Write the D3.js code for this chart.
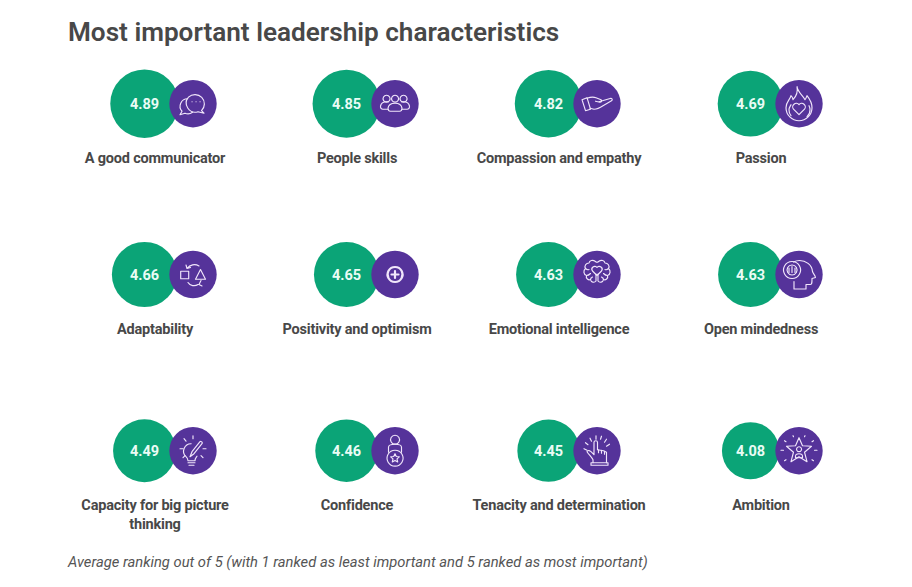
<!DOCTYPE html>
<html>
<head>
<meta charset="utf-8">
<script src="https://cdn.jsdelivr.net/npm/d3@7"></script>
<style>
  html, body { margin: 0; background: #fff; }
  text { font-family: Roboto, sans-serif; }
</style>
</head>
<body>
<svg id="chart" width="912" height="587"></svg>
<script>
const labels = [
  ["A good communicator"], ["People skills"], ["Compassion and empathy"], ["Passion"],
  ["Adaptability"], ["Positivity and optimism"], ["Emotional intelligence"], ["Open mindedness"],
  ["Capacity for big picture", "thinking"], ["Confidence"], ["Tenacity and determination"], ["Ambition"]
];
const values = [4.89, 4.85, 4.82, 4.69, 4.66, 4.65, 4.63, 4.63, 4.49, 4.46, 4.45, 4.08];
const icons = ["chat", "people", "hand", "flame", "shapes", "plus", "brain", "head", "bulb", "badge", "finger", "star"];
const columns = [0, 1, 2, 3];
const rows = [0, 1, 2];

const titleText = "Most important leadership characteristics";
const noteText = "Average ranking out of 5 (with 1 ranked as least important and 5 ranked as most important)";

const green = "#0ba477", purple = "#55339a", ink = "#484848", iconInk = "#f1e6fb";

const svg = d3.select("#chart");

const x = d3.scaleLinear().domain([0, 3]).range([144.5, 750.5]);
const y = d3.scaleOrdinal().domain(rows).range([103.7, 274.5, 450.7]);
const r = d3.scaleLinear().domain([0, 5]).range([0, 35]);

// icon outlines, drawn around the centre of the purple circle
const iconPaths = {
  chat: [
    "M-4.5-6.5a9 9 0 1 1 13 13.5l2.5 2.5-6-1.5a9 9 0 0 1-9.5-14.5z",
    "M-5.5-5a7.5 7.5 0 0 0-5.5 12.5l-2 3.5 5-1.5a7.5 7.5 0 0 0 7.5-1",
    "M-1-2h.1M3-2h.1M7-2h.1"
  ],
  people: [
    "M-8.5-8.5a3.5 3.5 0 1 0 .1 0zM0-8.5a3.5 3.5 0 1 0 .1 0zM8.5-8.5a3.5 3.5 0 1 0 .1 0z",
    "M-6.5 5.5h-5.5a2.5 2.5 0 0 1-2.5-3c.5-3 3-4.5 6-4.5h2M6.5 5.5h5.5a2.5 2.5 0 0 0 2.5-3c-.5-3-3-4.5-6-4.5h-2",
    "M-4.5 7.5a2.5 2.5 0 0 1-2.5-3c.5-3.5 3.5-5 7-5s6.500 1.500 7 5a2.500 2.500 0 0 1-2.500 3z"
  ],
  hand: [
    "M-15-4l5-2 3.500 11.500-5 1.500z",
    "M-10-5.500c3-1 6-1.500 9-.5l5 2c1 1 .5 2.500-1 2.500l-4.500-1",
    "M2-2l12-3.500c1.500 0 1.500 2 .5 2.500L6 2c-3 2-6 3.500-9 3.500l-4-1"
  ],
  flame: [
    "M-2-17c1 6 6 9 8 13 1-1 1-2 2-4 4 5 5 10 5 12a13 13 0 0 1-26 0c0-6 4-8 5-12 1 1 2 2 2 4 3-3 5-8 4-13z",
    "M-8 12a9 9 0 0 1-2-6c0-2 1-3 2-5M8 13a9 9 0 0 0 3-7c0-2-.5-3-1-4",
    "M0 11l-5.500-5.500a3.500 3.500 0 0 1 5.500-4.500 3.500 3.500 0 0 1 5.500 4.500z"
  ],
  shapes: [
    "M-12.300-3.300h8v7.500h-8zM7.500-5l5 9.700h-10z",
    "M-6-6c3-4 8-5 12-2.500M-7-9.500l1 3.500 3.500-1M5 10c-3 2-8 1.500-10-2M8 6l-2 4 3 1.500"
  ],
  plus: ["M0-7.500a7.500 7.500 0 1 0 .1 0z", "M0-3.500v7M-3.500 0h7"],
  brain: [
    "M-1.500-13c-3-2-6-1-6.500 1.500-3 0-5 3-3.500 5.500-2.500 2-2 6 1 7-1 3 2 5 4 4 .5 3 4 3.500 5.500 1.500v-7",
    "M1.500-13c3-2 6-1 6.500 1.500 3 0 5 3 3.500 5.500 2.500 2 2 6-1 7 1 3-2 5-4 4-.5 3-4 3.500-5.500 1.500v-7",
    "M-1.500-13c1 1 2 1 3 0M0 1l-4.500-4.500a2.800 2.800 0 0 1 4.500-3.500 2.800 2.800 0 0 1 4.500 3.500z",
    "M-11.500-6c1 1 2.500 1.500 3.500 1M11.500-6c-1 1-2.500 1.500-3.500 1M-10.500 1c1.500 0 3-1 4-2M10.500 1c-1.500 0-3-1-4-2M-6.500 5c0-1 1-2 2-2.500M6.500 5c0-1-1-2-2-2.500"
  ],
  head: [
    "M-5 7v7.500H7v-4.500h4.500c1.500 0 1.500-1.500 1.500-6l3.500-1c.5-1-2.500-4-3-6-.5-7-7-11-13-11-3 0-5 1-6 1.500",
    "M-7-13a8.500 8.500 0 1 0 .1 0z",
    "M-7-9.500a5 5 0 1 0 .1 0z",
    "M-10-2v-4.500M-7-2v-6M-4-2v-4.500"
  ],
  bulb: [
    "M-2-7a7.500 7.500 0 0 0-5 13c2 2 2 3 2 4h7c0-2 1-3 2-4.500",
    "M-5 12h7M-4 14.500h5",
    "M-3 6l2-5 8-10c1-1 3 1 2 2l-8 10z",
    "M0-15v3M-9-12l2 2.500M-13-2h3M-10 7l2-2M8 5l2 2M10-2h3"
  ],
  badge: [
    "M0-15.500a4.500 4.500 0 1 0 .1 0z",
    "M-6.500 1.500v-5c0-2.500 3-3 6.500-3s6.500 .5 6.500 3v5",
    "M0-.5a8 8 0 1 0 .1 0z",
    "M0 3l1.300 2.800 3 .3-2.300 2.100.7 3L0 9.700l-2.700 1.500.7-3-2.300-2.100 3-.3z"
  ],
  finger: [
    "M-6 12h17v2.500H-6z",
    "M-4 12v-3c-1-2-4-5-6-8 1-2 3-1 4 0l3 3v-12.500c0-2 3.500-2 3.500 0v7.500l3 .5 3 .5 3 1.500v10.500",
    "M1.500-1v3M4.500-.5v3M7.500.5v3",
    "M-13-2l3 1.500M-11.500-8l2.500 2M-7-12.500l1.500 3M-1-15v3.500M4.500-14.500l-1 3M9.500-11.500l-2 3M12.500-6.500l-3 2"
  ],
  star: [
    "M0-13l3.500 8 9 .5-7 6 2.500 9.500-8-5-8 5 2.500-9.500-7-6 9-.5z",
    "M0-4a2.500 2.500 0 1 0 .1 0zM-3.500 7v-1.500c0-2 1.500-2.500 3.500-2.500s3.500 .5 3.500 2.500V7z",
    "M-18-.5h2.500M15.500-.5h2.500M-14.500-10l1.500 1M14.500-10l-1.500 1M-14.500 10l1.500-1M14.500 10l-1.500-1M-6-15l.5 1M6-15l-.5 1"
  ]
};

svg.append("text")
  .attr("x", 68).attr("y", 41)
  .attr("font-size", 26.15).attr("font-weight", 600).attr("fill", ink)
  .text(titleText);

const items = svg.selectAll("g.item")
  .data(values)
  .enter()
  .append("g")
  .attr("class", "item")
  .attr("transform", (d, i) => `translate(${x(columns[i % 4])}, ${y(rows[Math.floor(i / 4)])})`);

items.append("circle").attr("r", d => r(d)).attr("fill", green);
items.append("circle").attr("cx", 48.5).attr("r", 23.7).attr("fill", purple);

items.append("text")
  .attr("text-anchor", "middle").attr("y", 5.5)
  .attr("font-size", 14.5).attr("font-weight", 700).attr("fill", "#eafcf5")
  .text(d => d.toFixed(2));

items.append("g")
  .attr("transform", "translate(48.5, 0)")
  .attr("fill", "none").attr("stroke", iconInk)
  .attr("stroke-width", (d, i) => icons[i] === "plus" ? 2.2 : 1.15)
  .attr("stroke-linejoin", "round").attr("stroke-linecap", "round")
  .selectAll("path")
  .data((d, i) => iconPaths[icons[i]])
  .enter()
  .append("path")
  .attr("d", d => d);

items.append("text")
  .attr("text-anchor", "middle")
  .attr("font-size", 14.5).attr("font-weight", 700).attr("fill", ink)
  .attr("letter-spacing", -0.2)
  .selectAll("tspan")
  .data((d, i) => labels[i])
  .enter()
  .append("tspan")
  .attr("x", 10.5)
  .attr("y", (d, i) => 59.5 + i * 19)
  .text(d => d);

svg.append("text")
  .attr("x", 68).attr("y", 567)
  .attr("font-size", 14.75).attr("font-style", "italic").attr("fill", "#555")
  .text(noteText);
</script>
</body>
</html>
